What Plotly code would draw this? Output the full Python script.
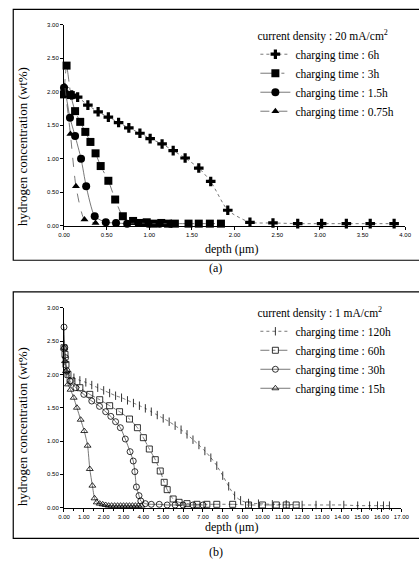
import plotly.graph_objects as go

W, H = 419, 571

# ---------------- data: panel (a), 20 mA/cm2 ----------------
a_names = ["charging time : 6h", "charging time : 3h", "charging time : 1.5h", "charging time : 0.75h"]
a6_x = [0.02, 0.09, 0.16, 0.28, 0.40, 0.52, 0.64, 0.76, 0.89, 1.01, 1.15, 1.28, 1.42, 1.58, 1.72, 1.92, 2.18, 2.45, 2.74, 3.02, 3.31, 3.59, 3.87]
a6_y = [1.98, 1.95, 1.92, 1.80, 1.70, 1.62, 1.54, 1.46, 1.38, 1.30, 1.22, 1.12, 1.01, 0.86, 0.66, 0.23, 0.05, 0.04, 0.03, 0.03, 0.03, 0.03, 0.03]
a3_x = [0.00, 0.03, 0.08, 0.13, 0.19, 0.25, 0.31, 0.37, 0.43, 0.52, 0.60, 0.69, 0.81, 0.90, 0.97, 1.05, 1.14, 1.22, 1.30, 1.46, 1.58, 1.71, 1.84]
a3_y = [1.96, 2.39, 1.95, 1.71, 1.55, 1.40, 1.25, 1.08, 0.89, 0.67, 0.39, 0.14, 0.07, 0.04, 0.05, 0.03, 0.04, 0.03, 0.03, 0.03, 0.03, 0.03, 0.03]
a15_x = [0.00, 0.02, 0.07, 0.13, 0.20, 0.26, 0.36, 0.49, 0.61, 0.74, 0.87, 0.99, 1.12, 1.25]
a15_y = [2.06, 1.97, 1.61, 1.34, 1.00, 0.59, 0.14, 0.05, 0.04, 0.03, 0.04, 0.03, 0.03, 0.03]
a075_x = [0.01, 0.075, 0.14, 0.24, 0.37]
a075_y = [2.08, 1.37, 0.59, 0.09, 0.04]

# ---------------- data: panel (b), 1 mA/cm2 ----------------
b_names = ["charging time : 120h", "charging time : 60h", "charging time : 30h", "charging time : 15h"]
b120_x = [0.00, 0.05, 0.12, 0.25, 0.5, 0.8, 1.1, 1.4, 1.7, 2.0, 2.3, 2.6, 2.9, 3.2, 3.5, 3.8, 4.1, 4.4, 4.7, 5.0,
          5.3, 5.6, 5.9, 6.2, 6.5, 6.8, 7.1, 7.4, 7.7, 8.0, 8.3, 8.6, 8.9, 9.3, 9.8, 10.5, 11.2, 12.0, 12.7, 13.4,
          14.1, 14.8, 15.4, 15.8, 16.1, 16.4]
b120_y = [2.45, 2.20, 2.05, 1.99, 1.95, 1.91, 1.88, 1.84, 1.80, 1.76, 1.72, 1.68, 1.65, 1.61, 1.57, 1.53, 1.49, 1.44, 1.39, 1.34,
          1.29, 1.23, 1.17, 1.10, 1.02, 0.94, 0.85, 0.75, 0.63, 0.48, 0.32, 0.18, 0.11, 0.07, 0.06, 0.05, 0.05, 0.04, 0.04, 0.04,
          0.04, 0.03, 0.03, 0.03, 0.03, 0.03]
b60_x = [0.00, 0.05, 0.10, 0.20, 0.40, 0.80, 1.30, 1.80, 2.30, 2.80, 3.30, 3.70, 4.00, 4.30, 4.60, 4.85, 5.05, 5.20, 5.50,
         5.80, 6.20, 6.70, 7.20, 7.70, 8.50, 9.30, 10.00, 10.70, 11.20, 11.70]
b60_y = [2.40, 2.30, 2.15, 2.00, 1.90, 1.80, 1.70, 1.62, 1.53, 1.44, 1.33, 1.20, 1.05, 0.88, 0.72, 0.55, 0.38, 0.27, 0.13,
         0.08, 0.06, 0.05, 0.05, 0.05, 0.05, 0.04, 0.04, 0.04, 0.04, 0.04]
b30_x = [0.00, 0.04, 0.08, 0.15, 0.30, 0.60, 1.00, 1.40, 1.79, 2.10, 2.36, 2.60, 2.84, 3.09, 3.33, 3.49, 3.57, 3.65, 3.78,
         3.87, 4.10, 4.40, 4.80, 5.20, 5.60, 6.00, 6.50, 7.00]
b30_y = [2.71, 2.40, 2.25, 2.05, 1.90, 1.80, 1.70, 1.60, 1.52, 1.44, 1.37, 1.29, 1.20, 1.03, 0.84, 0.70, 0.54, 0.31, 0.18,
         0.10, 0.06, 0.05, 0.05, 0.04, 0.04, 0.04, 0.04, 0.04]
b15_x = [0.00, 0.05, 0.10, 0.20, 0.33, 0.49, 0.65, 0.84, 1.02, 1.19, 1.30, 1.43, 1.54, 1.65, 1.80, 1.95, 2.10, 2.25, 2.40,
         2.55, 2.70, 2.85, 3.00, 3.15, 3.30, 3.45, 3.60, 3.75, 3.90]
b15_y = [2.40, 2.20, 2.05, 1.85, 1.77, 1.65, 1.50, 1.32, 1.15, 0.93, 0.58, 0.33, 0.14, 0.08, 0.06, 0.05, 0.04, 0.03, 0.03,
         0.03, 0.03, 0.03, 0.03, 0.03, 0.03, 0.03, 0.03, 0.03, 0.03]

a_title = "current density : 20 mA/cm<sup>2</sup>"
b_title = "current density : 1 mA/cm<sup>2</sup>"
x_title = "depth (μm)"
y_title = "hydrogen concentration (wt%)"

SERIF = "Liberation Serif, Times New Roman, serif"
SANS = "Liberation Sans, Arial, sans-serif"
LINE_C = "#555555"

fig = go.Figure()

def add(x, y, name, xa, ya, leg, symbol, size, dash, filled=True):
    fig.add_trace(go.Scatter(
        x=x, y=y, name=name, xaxis=xa, yaxis=ya, legend=leg,
        mode="lines+markers", cliponaxis=False, hoverinfo="skip",
        line=dict(color=LINE_C, width=0.8, dash=dash, shape="spline", smoothing=0.6),
        marker=dict(symbol=symbol, size=size, color="black",
                    line=dict(color="black", width=0.8 if not filled else 0)),
    ))

add(a6_x, a6_y, a_names[0], "x", "y", "legend", "cross", 8, "dot")
add(a3_x, a3_y, a_names[1], "x", "y", "legend", "square", 8, "longdashdot")
add(a15_x, a15_y, a_names[2], "x", "y", "legend", "circle", 8, "solid")
add(a075_x, a075_y, a_names[3], "x", "y", "legend", "triangle-up", 7, "dash")

add(b120_x, b120_y, b_names[0], "x2", "y2", "legend2", "line-ns-open", 6, "dot", False)
add(b60_x, b60_y, b_names[1], "x2", "y2", "legend2", "square-open", 6, "dashdot", False)
add(b30_x, b30_y, b_names[2], "x2", "y2", "legend2", "circle-open", 6, "solid", False)
add(b15_x, b15_y, b_names[3], "x2", "y2", "legend2", "triangle-up-open", 6, "solid", False)

def px_x(p):
    return p / W

def px_y(p):
    return 1 - p / H

axis_common = dict(showline=True, linecolor="black", linewidth=1, ticks="outside", ticklen=3,
                   tickwidth=1, tickcolor="black", showgrid=False, zeroline=False,
                   tickfont=dict(family=SANS, size=6, color="black"), tickformat=".2f")

leg_font = dict(family=SERIF, size=11.5, color="black")

fig.update_layout(
    width=W, height=H, autosize=False,
    margin=dict(l=0, r=0, t=0, b=0),
    paper_bgcolor="white", plot_bgcolor="white",
    showlegend=True, hovermode=False,
    xaxis=dict(domain=[px_x(60), px_x(413)], range=[0, 4], dtick=0.5, anchor="y", **axis_common),
    yaxis=dict(domain=[px_y(225), px_y(22)], range=[0, 3], dtick=0.5, anchor="x", **axis_common),
    xaxis2=dict(domain=[px_x(60), px_x(409)], range=[0, 17], dtick=1, anchor="y2",
                minor=dict(dtick=0.5, ticks="outside", ticklen=2, tickcolor="black"), **axis_common),
    yaxis2=dict(domain=[px_y(510), px_y(308)], range=[0, 3], dtick=0.5, anchor="x2", **axis_common),
    legend=dict(x=px_x(258), y=px_y(22), xanchor="left", yanchor="top", bgcolor="rgba(0,0,0,0)",
                title=dict(text=a_title, font=leg_font),
                font=leg_font, itemwidth=30, tracegroupgap=0),
    legend2=dict(x=px_x(258), y=px_y(302), xanchor="left", yanchor="top", bgcolor="rgba(0,0,0,0)",
                 title=dict(text=b_title, font=leg_font),
                 font=leg_font, itemwidth=30, tracegroupgap=0),
)

shapes = [
    dict(type="rect", xref="paper", yref="paper", x0=px_x(7.5), x1=px_x(430), y0=px_y(260), y1=px_y(6.5),
         line=dict(color="black", width=1.2)),
    dict(type="rect", xref="paper", yref="paper", x0=px_x(7.5), x1=px_x(430), y0=px_y(541), y1=px_y(292),
         line=dict(color="black", width=1.2)),
]
fig.update_layout(shapes=shapes)

ytitle_font = dict(family=SERIF, size=13, color="black")
ann_font = dict(family=SERIF, size=12, color="black")

def ann(text, x, y, font, angle=0):
    return dict(text=text, x=px_x(x), y=px_y(y), xref="paper", yref="paper", textangle=angle,
                xanchor="center", yanchor="middle", showarrow=False, font=font)

annotations = [
    ann(y_title, 17, 145, ytitle_font, -90),
    ann(x_title, 233, 249, ann_font),
    ann("(a)", 217, 268, ann_font),
    ann(y_title, 17, 428, ytitle_font, -90),
    ann(x_title, 233, 530, ann_font),
    ann("(b)", 217, 555, ann_font),
]
fig.update_layout(annotations=annotations)

fig.write_html("out.html", config={"displayModeBar": False, "staticPlot": True},
               post_script="document.body.style.margin='0';document.body.style.overflow='hidden';")
